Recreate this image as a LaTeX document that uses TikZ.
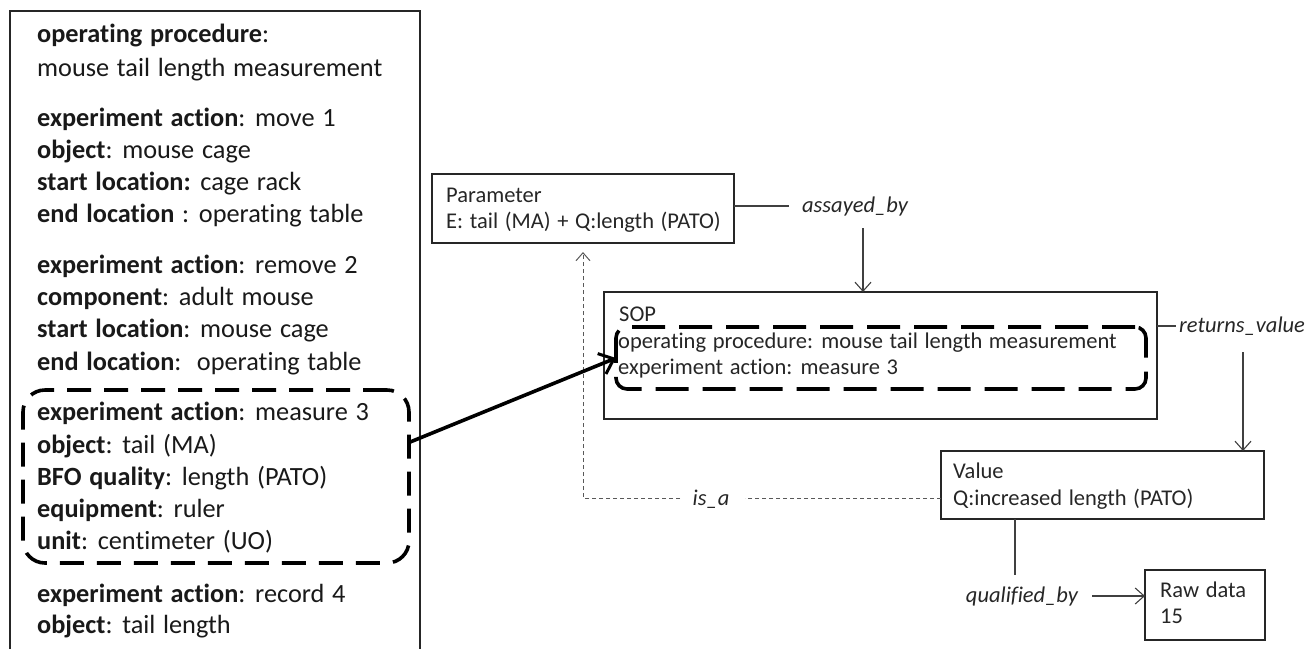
\documentclass[tikz,border=0pt]{standalone}
\usepackage{fontspec}
\setmainfont{Carlito}[Ligatures=NoCommon,WordSpace=1.3]
\usetikzlibrary{arrows.meta}
\begin{document}
\begin{tikzpicture}[x=1pt,y=-1pt,
  lt/.style={anchor=base west,inner sep=0pt,font=\fontsize{26.3}{30}\selectfont,text=black!90},
  rt/.style={anchor=base west,inner sep=0pt,font=\fontsize{22.5}{26}\selectfont,text=black!85},
  lbl/.style={inner sep=0pt,font=\fontsize{22.5}{26}\selectfont\itshape,text=black!85},
  box/.style={draw=black!85,line width=1.3pt,anchor=north west,inner sep=0pt,outer sep=0pt},
  grp/.style={draw=black,line width=3.6pt,anchor=north west,inner sep=0pt,outer sep=0pt},
  con/.style={draw=black!75,line width=1.1pt},
  arr/.style={con,-{Straight Barb[length=9pt,width=16pt,line width=1.1pt]}},
  isa/.style={draw=black!65,line width=1pt,dash pattern=on 4pt off 3pt},
]
\useasboundingbox (0,0) rectangle (1312,649);

% left big box (bottom cut off)
\draw[line width=1.3pt,draw=black!85] (10,649) -- (10,11) -- (420,11) -- (420,649);

% left texts
\node[lt] (l1) at (37,42) {\textbf{operating procedure}:};
\node[lt] (l2) at (37,76) {mouse tail length measurement};
\node[lt] (l3) at (37,126) {\textbf{experiment action}: move 1};
\node[lt] (l4) at (37,158) {\textbf{object}: mouse cage};
\node[lt] (l5) at (37,190) {\textbf{start location:} cage rack};
\node[lt] (l6) at (37,222) {\textbf{end location} : operating table};
\node[lt] (l7) at (37,273) {\textbf{experiment action}: remove 2};
\node[lt] (l8) at (37,305) {\textbf{component}: adult mouse};
\node[lt] (l9) at (37,337) {\textbf{start location}: mouse cage};
\node[lt] (l10) at (37,370) {\textbf{end location}:\ \ operating table};
\node[lt] (l11) at (37,420) {\textbf{experiment action}: measure 3};
\node[lt] (l12) at (37,453) {\textbf{object}: tail (MA)};
\node[lt] (l13) at (37,485) {\textbf{BFO quality}: length (PATO)};
\node[lt] (l14) at (37,517) {\textbf{equipment}: ruler};
\node[lt] (l15) at (37,549) {\textbf{unit}: centimeter (UO)};
\node[lt] (l16) at (37,602) {\textbf{experiment action}: record 4};
\node[lt] (l17) at (37,633) {\textbf{object}: tail length};

% left dashed group
\node[grp,dash pattern=on 24pt off 13pt,rounded corners=22pt,minimum width=386pt,minimum height=173pt] (leftgrp) at (23,390) {};

% boxes
\node[box,minimum width=302pt,minimum height=69pt] (param) at (432,174) {};
\node[box,minimum width=553pt,minimum height=127pt] (sop) at (604,292) {};
\node[grp,dash pattern=on 33pt off 14pt,rounded corners=11pt,minimum width=530pt,minimum height=62pt] (sopgrp) at (616,327) {};
\node[box,minimum width=323pt,minimum height=68pt] (value) at (941,451) {};
\node[box,minimum width=120pt,minimum height=70pt] (raw) at (1145,570) {};

% box texts
\node[rt] (pt1) at (446,202) {Parameter};
\node[rt] (pt2) at (446,228) {E: tail (MA) + Q:length (PATO)};
\node[rt] (st1) at (619,321) {SOP};
\node[rt] (st2) at (618,348) {operating procedure: mouse tail length measurement};
\node[rt] (st3) at (618,374) {experiment action: measure 3};
\node[rt] (vt1) at (953,478) {Value};
\node[rt] (vt2) at (953,505) {Q:increased length (PATO)};
\node[rt] (rt1) at (1160,597) {Raw data};
\node[rt] (rt2) at (1160,623) {15};

% labels
\node[lbl,anchor=base] (ab) at (855,212) {assayed\_by};
\node[lbl,anchor=base west] (rv) at (1179,332) {returns\_value};
\node[lbl,anchor=base] (isalbl) at (711,505) {is\_a};
\node[lbl,anchor=base] (qb) at (1022,602) {qualified\_by};

% coordinates
\coordinate (abl) at (789,206);
\coordinate (ab1) at (863,228);
\coordinate (rvl) at (1176,326);
\coordinate (rv1) at (1243,352);
\coordinate (isR) at (745,498);
\coordinate (isL) at (680,498);
\coordinate (isC) at (583,498);
\coordinate (isT) at (583,252);
\coordinate (qt) at (1015,575);
\coordinate (qa) at (1092,596);

% connectors
\draw[con] (param.east |- abl) -- (abl);
\draw[arr] (ab1) -- (ab1 |- sop.north);
\draw[con] (sop.east |- rvl) -- (rvl);
\draw[arr] (rv1) -- (rv1 |- value.north);
\draw[isa] (value.west |- isR) -- (isR);
\draw[isa,-{Straight Barb[length=8pt,width=14pt,line width=1pt]}] (isL) -- (isC) -- (isT);
\draw[con] (qt |- value.south) -- (qt);
\draw[arr] (qa) -- (qa -| raw.west);
\draw[line width=3.6pt,-{Straight Barb[length=13pt,width=22pt,line width=3pt]}] (leftgrp.10) -- (sopgrp.west);
\end{tikzpicture}
\end{document}
